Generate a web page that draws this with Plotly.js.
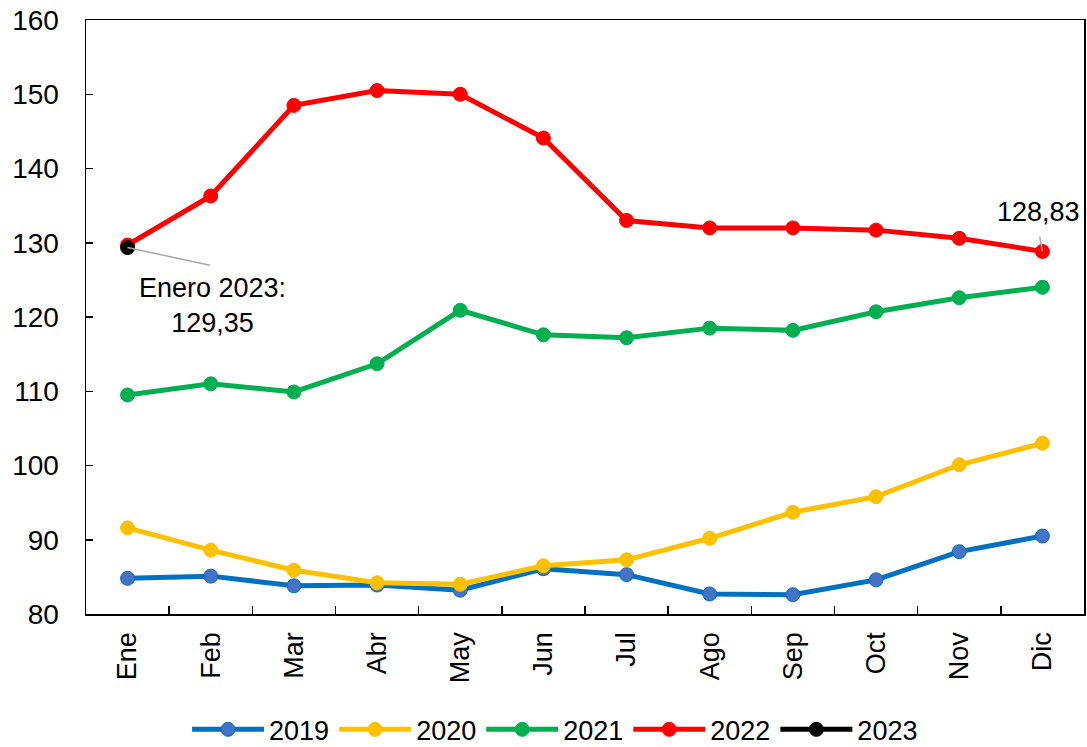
<!DOCTYPE html>
<html>
<head>
<meta charset="utf-8">
<script src="https://cdn.plot.ly/plotly-3.0.1.min.js"></script>
<style>html,body{margin:0;padding:0;background:#fff;}#chart{width:1087px;height:747px;}</style>
</head>
<body>
<div id="chart"></div>
<script>
const months = ['Ene','Feb','Mar','Abr','May','Jun','Jul','Ago','Sep','Oct','Nov','Dic'];
const y2019 = [84.8, 85.1, 83.8, 83.9, 83.2, 86.1, 85.3, 82.7, 82.6, 84.6, 88.4, 90.5];
const y2020 = [91.6, 88.6, 85.9, 84.2, 84.0, 86.5, 87.3, 90.2, 93.7, 95.8, 100.1, 103.0];
const y2021 = [109.5, 111.0, 109.9, 113.7, 120.9, 117.6, 117.2, 118.5, 118.2, 120.7, 122.6, 124.0];
const y2022 = [129.7, 136.3, 148.5, 150.5, 150.0, 144.1, 133.0, 132.0, 132.0, 131.7, 130.6, 128.83];
const y2023 = [129.35];
const seriesNames = ['2019','2020','2021','2022','2023'];

const font = 'Liberation Sans, Arial, sans-serif';
function tr(name, y, lineColor, markerColor) {
  return {
    x: months.slice(0, y.length), y: y, name: name, type: 'scatter', mode: 'lines+markers',
    line: {color: lineColor, width: 5},
    marker: {color: markerColor, size: 14, line: {color: lineColor, width: 1}}
  };
}
const data = [
  tr(seriesNames[0], y2019, '#0070C0', '#4472C4'),
  tr(seriesNames[1], y2020, '#FFC000', '#FFC000'),
  tr(seriesNames[2], y2021, '#00B050', '#00B050'),
  tr(seriesNames[3], y2022, '#FF0000', '#FF0000'),
  tr(seriesNames[4], y2023, '#000000', '#000000')
];
const layout = {
  width: 1087, height: 747,
  margin: {l: 86, r: 3, t: 20, b: 133, autoexpand: false},
  paper_bgcolor: '#fff', plot_bgcolor: '#fff',
  font: {family: font, size: 28, color: '#000'},
  showlegend: true,
  legend: {orientation: 'h', x: 0.47, xanchor: 'center', yref: 'container', y: 0.023, yanchor: 'middle',
           font: {family: font, size: 27, color: '#000'}, itemwidth: 72, traceorder: 'normal'},
  xaxis: {
    type: 'category', categoryorder: 'array', categoryarray: months, automargin: false,
    range: [-0.5, 11.5], tickangle: -90, ticks: 'inside', tickson: 'boundaries',
    ticklen: 8, tickwidth: 1.5, tickcolor: '#000', ticklabelstandoff: 6,
    showline: true, linecolor: '#000', linewidth: 1.5, mirror: true,
    showgrid: false, zeroline: false,
    tickfont: {family: font, size: 27, color: '#000'}
  },
  yaxis: {
    range: [80, 160], dtick: 10, ticks: 'inside', ticklen: 7, tickwidth: 1.5, tickcolor: '#000',
    automargin: false, ticklabelstandoff: 20,
    showline: true, linecolor: '#000', linewidth: 1.5, mirror: true,
    showgrid: false, zeroline: false,
    tickfont: {family: font, size: 28, color: '#000'}
  },
  annotations: [
    {x: 'Ene', y: y2023[0], xref: 'x', yref: 'y', text: '', showarrow: true, arrowhead: 0,
     arrowwidth: 1.5, arrowcolor: '#A6A6A6', ax: 84, ay: 18, standoff: 0},
    {x: 'Ene', y: y2023[0], xref: 'x', yref: 'y', text: 'Enero 2023:<br>129,35', showarrow: false,
     xshift: 85, yshift: -58, font: {family: font, size: 27, color: '#000'}},
    {x: 'Dic', y: y2022[11], xref: 'x', yref: 'y', text: '', showarrow: true, arrowhead: 0,
     arrowwidth: 1.5, arrowcolor: '#A6A6A6', ax: -3, ay: -16, standoff: 0},
    {x: 'Dic', y: y2022[11], xref: 'x', yref: 'y', text: '128,83', showarrow: false,
     xshift: -4, yshift: 39, font: {family: font, size: 27, color: '#000'}}
  ]
};
Plotly.newPlot('chart', data, layout, {displayModeBar: false, staticPlot: true});
</script>
</body>
</html>
